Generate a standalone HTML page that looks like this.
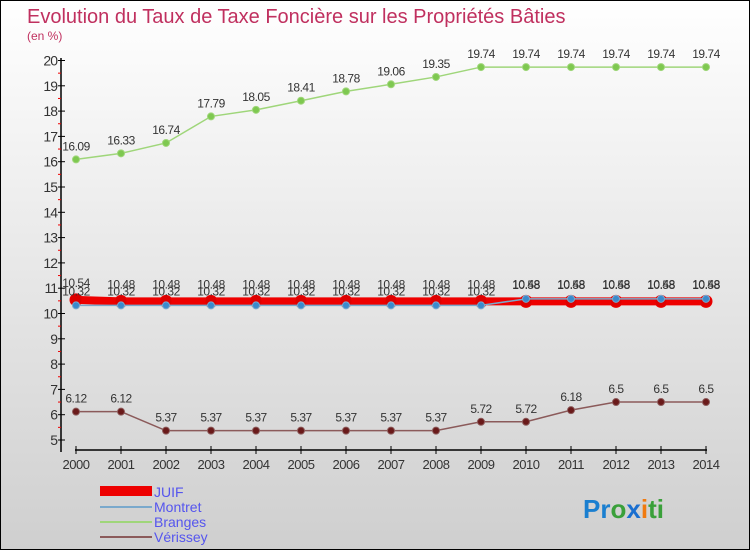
<!DOCTYPE html>
<html><head><meta charset="utf-8"><style>
body{margin:0;width:750px;height:550px;overflow:hidden;font-family:"Liberation Sans",sans-serif}
svg text{font-family:"Liberation Sans",sans-serif}
</style></head><body>
<svg id="c" width="750" height="550" xmlns="http://www.w3.org/2000/svg">
<defs><linearGradient id="bg" x1="0" y1="0" x2="0" y2="1"><stop offset="0" stop-color="#ffffff"/><stop offset="1" stop-color="#cfcfcf"/></linearGradient></defs>
<rect x="0.5" y="0.5" width="749" height="549" fill="url(#bg)" stroke="#000"/>
<text x="27" y="23" font-size="20" fill="#c0305f">Evolution du Taux de Taxe Foncière sur les Propriétés Bâties</text>
<text x="27" y="40" font-size="12" fill="#c0305f">(en %)</text>
<g id="axes"></g><g id="series"></g>
<g>
<rect x="100" y="486" width="52" height="10" fill="#ee0000"/>
<text x="154" y="497" font-size="14" fill="#5555ee">JUIF</text>
<line x1="100" y1="507" x2="152" y2="507" stroke="#7aa9cc" stroke-width="2"/>
<text x="154" y="512" font-size="14" fill="#5555ee">Montret</text>
<line x1="100" y1="522" x2="152" y2="522" stroke="#9fd67a" stroke-width="2"/>
<text x="154" y="527" font-size="14" fill="#5555ee">Branges</text>
<line x1="100" y1="537" x2="152" y2="537" stroke="#8b5a5a" stroke-width="2"/>
<text x="154" y="542" font-size="14" fill="#5555ee">Vérissey</text>
</g>
<text x="583" y="518" font-size="26" font-weight="bold"><tspan fill="#1a7fd0">Pr</tspan><tspan fill="#3aa03a">o</tspan><tspan fill="#1a6fd0">x</tspan><tspan fill="#f07a10">i</tspan><tspan fill="#3aa03a">ti</tspan></text>
</svg>
<script>
const years=[2000,2001,2002,2003,2004,2005,2006,2007,2008,2009,2010,2011,2012,2013,2014];
const juif=[10.54,10.48,10.48,10.48,10.48,10.48,10.48,10.48,10.48,10.48,10.48,10.48,10.48,10.48,10.48];
const montret=[10.32,10.32,10.32,10.32,10.32,10.32,10.32,10.32,10.32,10.32,10.58,10.58,10.58,10.58,10.58];
const branges=[16.09,16.33,16.74,17.79,18.05,18.41,18.78,19.06,19.35,19.74,19.74,19.74,19.74,19.74,19.74];
const verissey=[6.12,6.12,5.37,5.37,5.37,5.37,5.37,5.37,5.37,5.72,5.72,6.18,6.5,6.5,6.5];
const yTicks=[5,6,7,8,9,10,11,12,13,14,15,16,17,18,19,20];
const NS="http://www.w3.org/2000/svg";
const X=i=>76+i*45, Y=v=>440-(v-5)*25.3;
function mk(t,a,p){const e=document.createElementNS(NS,t);for(const k in a)e.setAttribute(k,a[k]);p.appendChild(e);return e;}
const ax=document.getElementById('axes'), se=document.getElementById('series');
let l=mk('line',{x1:61,y1:58,x2:61,y2:452,stroke:'#000','stroke-width':1.5},ax);


l=mk('line',{x1:75,y1:450,x2:707,y2:450,stroke:'#000','stroke-width':1.5},ax);


yTicks.forEach(v=>{const y=Y(v);mk('line',{x1:58,y1:y,x2:65,y2:y,stroke:'#000'},ax);
 if(v<20){mk('line',{x1:58,y1:y-12.65,x2:61,y2:y-12.65,stroke:'#e00'},ax);}
 const t=mk('text',{x:57,y:y+5,'font-size':14,fill:'#333','text-anchor':'end','letter-spacing':'-1'},ax);t.textContent=v;
 
 });
years.forEach((yr,i)=>{mk('line',{x1:X(i),y1:446,x2:X(i),y2:454,stroke:'#000'},ax);
 const t=mk('text',{x:X(i),y:469,'font-size':13,fill:'#333','text-anchor':'middle','letter-spacing':'-0.5'},ax);t.textContent=yr;
 
 });
function draw(name,vals,color,w,r,dot,dy){
 const g=mk('g',{},se);
 
 
 mk('polyline',{points:vals.map((v,i)=>X(i)+','+Y(v)).join(' '),fill:'none',stroke:color,'stroke-width':w},g);
 vals.forEach((v,i)=>{const c=mk('circle',{cx:X(i),cy:Y(v),r:r,fill:dot,stroke:color,'stroke-width':1},g);
  
  
  const t=mk('text',{x:X(i),y:Y(v)+dy,'font-size':12,fill:'#333','text-anchor':'middle','letter-spacing':'-0.5'},g);t.textContent=v;
  
  });
}
draw('branges',branges,'#9fd67a',1.5,3.5,'#7ec850',-9);
draw('verissey',verissey,'#8b5a5a',1.5,3.5,'#6a1a1a',-9);
draw('juif',juif,'#ee0000',8,6,'#dd0000',-13);
draw('montret',montret,'#7aa9cc',1.5,3.5,'#3a8acc',-10);
</script>
</body></html>
